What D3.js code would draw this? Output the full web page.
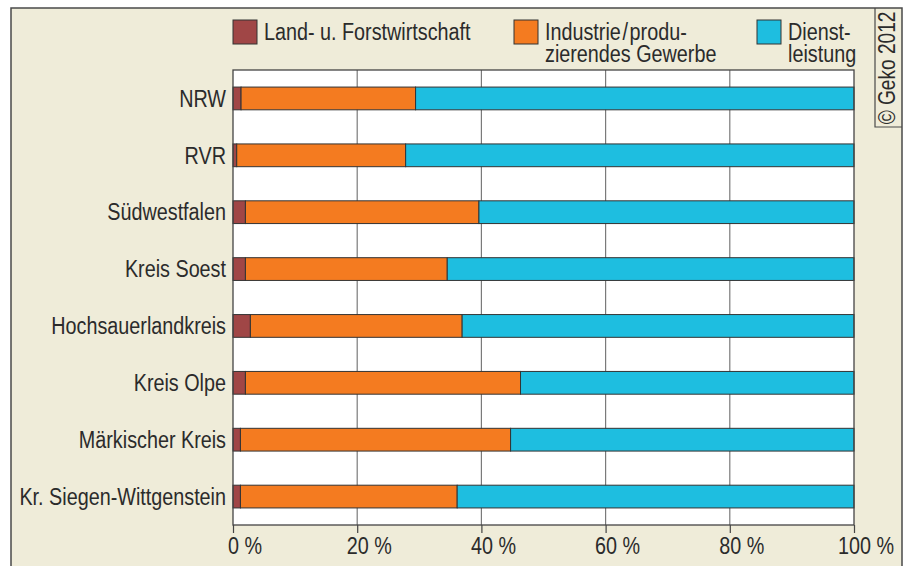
<!DOCTYPE html>
<html>
<head>
<meta charset="utf-8">
<script src="https://cdn.jsdelivr.net/npm/d3@7"></script>
<style>
  body { margin: 0; background: #ffffff; }
  svg text { font-family: "Liberation Sans", Arial, sans-serif; fill: #2b2b2b; }
</style>
</head>
<body>
<svg id="drawing_region"></svg>
<script>
// Anteil der Beschäftigten nach Sektoren (%)
const regions = ['NRW', 'RVR', 'Südwestfalen', 'Kreis Soest', 'Hochsauerlandkreis',
                 'Kreis Olpe', 'Märkischer Kreis', 'Kr. Siegen-Wittgenstein'];
const land = [1.3, 0.6, 2.0, 2.0, 2.8, 2.0, 1.2, 1.2];
const industrie = [28.1, 27.2, 37.6, 32.5, 34.1, 44.3, 43.5, 34.9];
const dienst = [70.6, 72.2, 60.4, 65.5, 63.1, 53.7, 55.3, 63.9];
const ticks = [0, 20, 40, 60, 80, 100];
const legendLabels = [['Land- u. Forstwirtschaft'], ['Industrie\u200A/\u200Aprodu-', 'zierendes Gewerbe'], ['Dienst-', 'leistung']];

const keys = ['land', 'industrie', 'dienst'];
const colors = { land: '#a04646', industrie: '#f47b20', dienst: '#1ebee0' };

const width = 908, height = 566;
const margin = { top: 70, right: 54, bottom: 41, left: 233 };
const fontSize = 23;
const narrow = 'scale(0.86,1)';   // condensed look

const data = regions.map((r, i) => ({ region: r, land: land[i], industrie: industrie[i], dienst: dienst[i] }));

const svg = d3.select('#drawing_region')
    .attr('width', width)
    .attr('height', height);

// frame
svg.append('rect')
    .attr('x', 11).attr('y', 8)
    .attr('width', 891).attr('height', height)
    .attr('fill', '#efecd9');
svg.append('path')
    .attr('d', `M11,${height} V8 H902 V${height}`)
    .attr('fill', 'none')
    .attr('stroke', '#4a4a4a')
    .attr('stroke-width', 1.5);

// copyright box
svg.append('path')
    .attr('d', 'M875,8 V127 H902')
    .attr('fill', 'none')
    .attr('stroke', '#4a4a4a')
    .attr('stroke-width', 1.2);
svg.append('text')
    .attr('transform', 'translate(895,68) rotate(-90) scale(0.83,1)')
    .attr('text-anchor', 'middle')
    .style('font-size', fontSize + 'px')
    .text('© Geko 2012');

const x = d3.scaleLinear()
    .domain([0, 100])
    .range([margin.left, width - margin.right]);

const y = d3.scaleBand()
    .domain(regions)
    .range([margin.top, height - margin.bottom])
    .paddingInner(0.6)
    .paddingOuter(0.3);

// plot background
svg.append('rect')
    .attr('x', x(0)).attr('y', margin.top)
    .attr('width', x(100) - x(0))
    .attr('height', height - margin.bottom - margin.top)
    .attr('fill', '#ffffff');

// grid
svg.append('g')
    .selectAll('line')
    .data(ticks.slice(1, -1))
    .join('line')
    .attr('x1', d => x(d)).attr('x2', d => x(d))
    .attr('y1', margin.top).attr('y2', height - margin.bottom)
    .attr('stroke', '#7a7a7a')
    .attr('stroke-width', 1.2);

// bars
const stack = d3.stack().keys(keys);
const series = stack(data);

svg.append('g')
    .selectAll('g')
    .data(series)
    .join('g')
    .attr('fill', d => colors[d.key])
    .selectAll('rect')
    .data(d => d)
    .join('rect')
    .attr('x', d => x(d[0]))
    .attr('y', d => y(d.data.region))
    .attr('width', d => x(d[1]) - x(d[0]))
    .attr('height', y.bandwidth())
    .attr('stroke', '#333333')
    .attr('stroke-width', 1);

// plot border
svg.append('rect')
    .attr('x', x(0)).attr('y', margin.top)
    .attr('width', x(100) - x(0))
    .attr('height', height - margin.bottom - margin.top)
    .attr('fill', 'none')
    .attr('stroke', '#444444')
    .attr('stroke-width', 1.3);

// x axis: the number sits centred on the tick, " %" hangs to the right
const xAxis = svg.append('g')
    .attr('transform', `translate(0,${height - margin.bottom})`)
    .call(d3.axisBottom(x).tickValues(ticks).tickSize(8).tickFormat(d => d + ' %'));
xAxis.select('.domain').remove();
xAxis.selectAll('line').attr('stroke', '#444444').attr('stroke-width', 1.2);
xAxis.selectAll('text')
    .attr('text-anchor', 'start')
    .attr('x', d => -String(d).length * 0.556 * fontSize / 2)
    .attr('y', 13)
    .attr('dy', '0.71em')
    .attr('transform', narrow)
    .style('font-size', fontSize + 'px')
    .attr('fill', '#2b2b2b');

// y labels
svg.append('g')
    .selectAll('text')
    .data(regions)
    .join('text')
    .attr('transform', d => `translate(${x(0) - 7},${y(d) + y.bandwidth() / 2}) ${narrow}`)
    .attr('dy', '0.36em')
    .attr('text-anchor', 'end')
    .style('font-size', fontSize + 'px')
    .text(d => d);

// legend
const legendX = [233, 514, 757];
const legend = svg.append('g')
    .selectAll('g')
    .data(keys)
    .join('g')
    .attr('transform', (d, i) => `translate(${legendX[i]},20)`);
legend.append('rect')
    .attr('width', 24).attr('height', 24)
    .attr('fill', d => colors[d])
    .attr('stroke', '#333333')
    .attr('stroke-width', 1);
legend.append('text')
    .attr('transform', 'translate(31,0) ' + narrow)
    .style('font-size', fontSize + 'px')
    .selectAll('tspan')
    .data((d, i) => legendLabels[i])
    .join('tspan')
    .attr('x', 0)
    .attr('y', (d, i) => 20 + i * 22)
    .text(d => d);
</script>
</body>
</html>
